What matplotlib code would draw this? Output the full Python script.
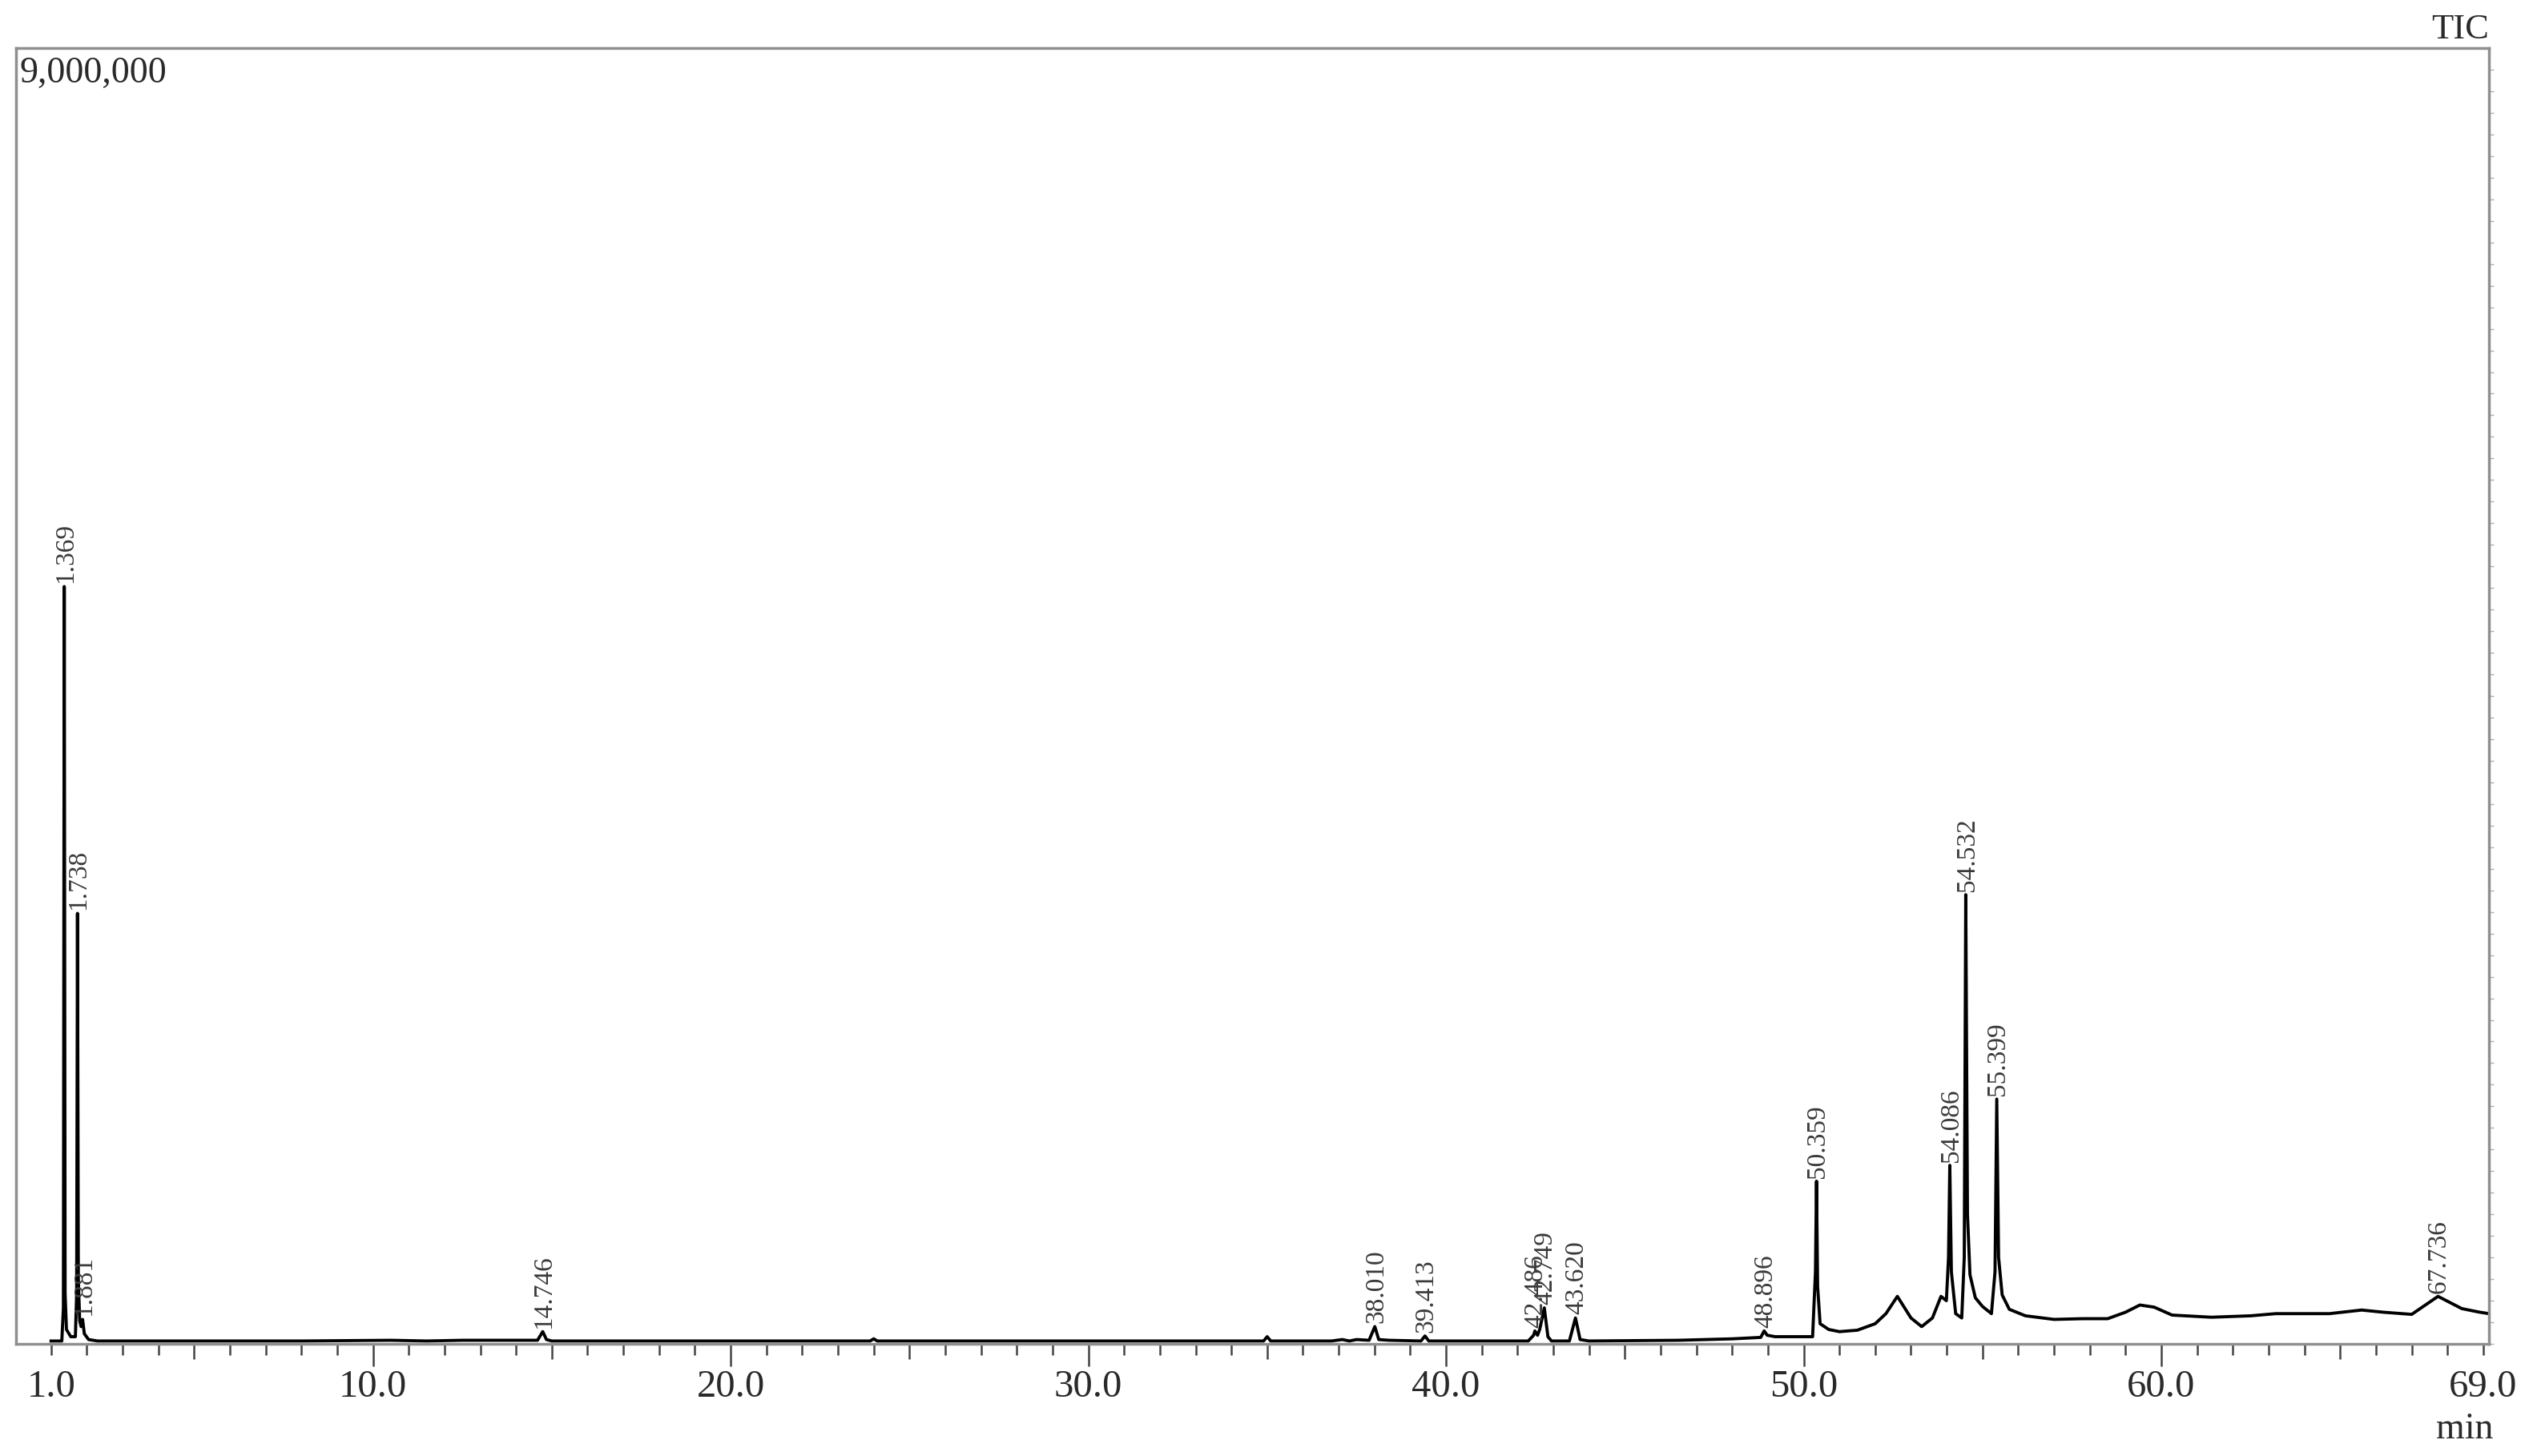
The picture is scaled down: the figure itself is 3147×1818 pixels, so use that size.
import numpy as np
import matplotlib
matplotlib.use("Agg")
import matplotlib.pyplot as plt

# TIC chromatogram (retention time in min, intensity in counts)
rt = [1.00, 1.30, 1.345, 1.369, 1.392, 1.43, 1.55, 1.68, 1.715, 1.738, 1.762, 1.80, 1.84,
      1.881, 1.93, 2.05, 2.30, 5.0, 8.0, 10.5, 11.5, 12.5, 14.60, 14.746, 14.85, 15.0,
      20.0, 23.9, 24.0, 24.1, 30.0, 34.9, 35.0, 35.1, 36.8, 37.1, 37.3, 37.5, 37.85, 38.010,
      38.12, 38.4, 39.30, 39.413, 39.52, 40.0, 42.30, 42.45, 42.486, 42.56, 42.62, 42.749,
      42.85, 42.95, 43.45, 43.620, 43.75, 44.0, 46.5, 48.0, 48.80, 48.896, 48.98, 49.2,
      50.25, 50.33, 50.359, 50.39, 50.46, 50.70, 51.0, 51.5, 52.0, 52.3, 52.62, 53.0,
      53.3, 53.6, 53.84, 53.99, 54.05, 54.086, 54.13, 54.25, 54.42, 54.49, 54.532, 54.58,
      54.65, 54.80, 55.0, 55.25, 55.35, 55.399, 55.45, 55.55, 55.75, 56.2, 57.0, 57.8,
      58.5, 59.0, 59.4, 59.8, 60.3, 61.4, 62.5, 63.2, 64.7, 65.6, 66.2, 67.0, 67.736,
      68.4, 68.9, 69.16]
tic = [0.02, 0.02, 0.25, 5.26, 0.35, 0.10, 0.05, 0.05, 0.35, 2.99, 0.45, 0.16, 0.12,
       0.17, 0.07, 0.03, 0.02, 0.02, 0.02, 0.025, 0.02, 0.025, 0.025, 0.085, 0.03, 0.02,
       0.02, 0.02, 0.035, 0.02, 0.02, 0.02, 0.05, 0.02, 0.02, 0.03, 0.02, 0.03, 0.025, 0.12,
       0.03, 0.025, 0.02, 0.055, 0.02, 0.02, 0.02, 0.06, 0.09, 0.06, 0.10, 0.25,
       0.05, 0.02, 0.02, 0.18, 0.03, 0.02, 0.025, 0.035, 0.045, 0.09, 0.06, 0.05,
       0.05, 0.50, 1.13, 0.40, 0.14, 0.10, 0.085, 0.095, 0.14, 0.21, 0.33, 0.18,
       0.12, 0.18, 0.33, 0.30, 0.60, 1.24, 0.50, 0.21, 0.18, 0.60, 3.12, 0.90,
       0.48, 0.32, 0.26, 0.21, 0.50, 1.70, 0.60, 0.34, 0.24, 0.195, 0.17, 0.175,
       0.175, 0.22, 0.27, 0.255, 0.20, 0.185, 0.195, 0.21, 0.21, 0.235, 0.22, 0.205, 0.33,
       0.245, 0.22, 0.21]
tic = [v * 1e6 for v in tic]

# labelled peaks
peak_rt = [1.369, 1.738, 1.881, 14.746, 38.010, 39.413, 42.486, 42.749, 43.620,
           48.896, 50.359, 54.086, 54.532, 55.399, 67.736]

tick_pos = [1, 10, 20, 30, 40, 50, 60, 69]
tick_lab = ["1.0", "10.0", "20.0", "30.0", "40.0", "50.0", "60.0", "69.0"]

plt.rcParams['font.family'] = ['Liberation Serif', 'DejaVu Serif']

fig = plt.figure(figsize=(31.47, 18.18), dpi=100)
ax = fig.add_axes([20 / 3147, 140 / 1818, 3087 / 3147, 1618 / 1818])

ax.plot(rt, tic, color='black', lw=2.8, solid_joinstyle='round')

# peak labels, vertical, just above each apex
apex = np.interp(peak_rt, rt, tic)
for x, y in zip(peak_rt, apex):
    ax.annotate(f"{x:.3f}", (x, y), xytext=(1, 3), textcoords='offset points',
                rotation=90, ha='center', va='bottom', fontsize=24, color='#3a3a3a')

ax.set_xlim(0.02, 69.16)
ax.set_ylim(0, 9e6)

# frame
for s in ax.spines.values():
    s.set_color('#8f8f8f')
    s.set_linewidth(2.5)

# x ticks: every minute, longer at 5 and 10
ax.set_xticks(tick_pos)
ax.set_xticklabels(tick_lab)
minor = [m for m in range(2, 69) if m not in tick_pos]
ax.set_xticks(minor, minor=True)
ax.tick_params(axis='x', which='major', direction='out', length=20, width=1.8,
               color='#444444', labelsize=35, labelcolor='#2a2a2a', pad=3)
ax.tick_params(axis='x', which='minor', direction='out', length=10, width=1.8,
               color='#444444')
for t, pos in zip(ax.xaxis.get_major_ticks(), tick_pos):
    if pos in (1, 69):
        t.tick1line.set_markersize(10)
for t, pos in zip(ax.xaxis.get_minor_ticks(), minor):
    if pos % 5 == 0:
        t.tick1line.set_markersize(14)

# y axis: only faint little ticks on the right
ax.set_yticks([])
ax.yaxis.set_ticks_position('right')
ax.set_yticks(np.arange(0, 9e6, 1.5e5), minor=True)
ax.tick_params(axis='y', which='minor', direction='out', length=4, width=1,
               color='#b0b0b0', right=True, left=False)

fig.text(25 / 3147, 1 - 103 / 1818, "9,000,000", fontsize=33, color='#2a2a2a',
         ha='left', va='baseline')
fig.text(3107 / 3147, 1 - 48 / 1818, "TIC", fontsize=32, color='#2a2a2a',
         ha='right', va='baseline')
fig.text(3112 / 3147, 1 - 1796 / 1818, "min", fontsize=33, color='#2a2a2a',
         ha='right', va='baseline')

fig.savefig('out.png', dpi=100, facecolor='white')
